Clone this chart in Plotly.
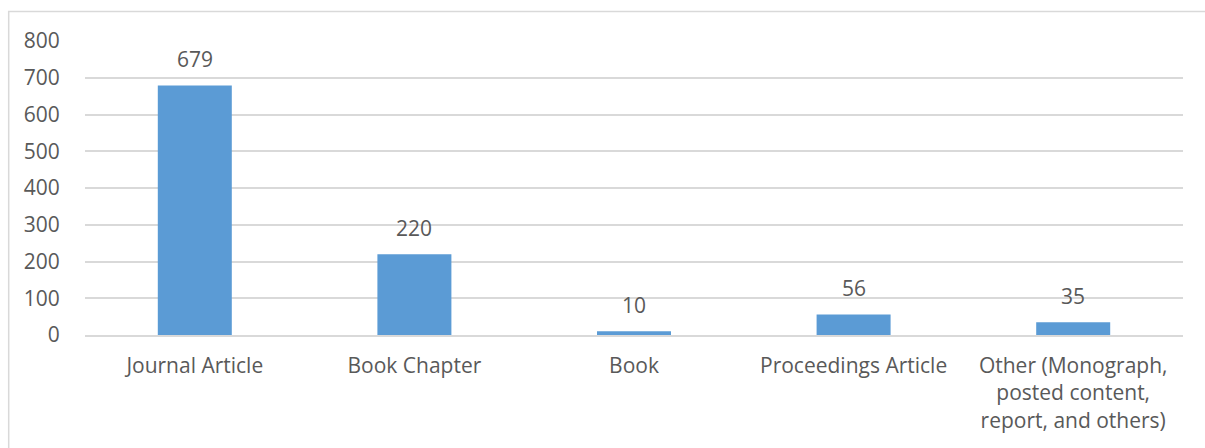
import plotly.graph_objects as go

categories = ["Journal Article", "Book Chapter", "Book", "Proceedings Article",
              "Other (Monograph,<br>posted content,<br>report, and others)"]
values = [679, 220, 10, 56, 35]
y_ticks = [0, 100, 200, 300, 400, 500, 600, 700, 800]

TEXT = "#595959"
GRID = "#D9D9D9"
BAR = "#5B9BD5"
FONT = "Open Sans"
FS = 21

fig = go.Figure()
fig.add_trace(go.Bar(x=categories, y=values, marker=dict(color=BAR, line=dict(width=0)),
                     hoverinfo="x+y"))

for c, v in zip(categories, values):
    fig.add_annotation(x=c, y=v, text=str(v), showarrow=False, yanchor="middle",
                       yshift=26, font=dict(family=FONT, size=FS, color=TEXT))

fig.add_shape(type="rect", xref="paper", yref="paper", x0=-0.0695, x1=1.2, y0=-0.5, y1=1.1,
              line=dict(color=GRID, width=1.5), fillcolor="rgba(0,0,0,0)", layer="below")

fig.update_layout(
    width=1205, height=448,
    margin=dict(l=85, r=22, t=41, b=113),
    paper_bgcolor="white", plot_bgcolor="white",
    bargap=0.663, showlegend=False,
    font=dict(family=FONT, size=FS, color=TEXT),
    xaxis=dict(showgrid=False, showline=True, linecolor=GRID, linewidth=1.5,
               ticks="outside", ticklen=11, tickcolor="rgba(0,0,0,0)",
               tickfont=dict(family=FONT, size=FS, color=TEXT), zeroline=False),
    yaxis=dict(range=[0, 800], tickvals=y_ticks, showgrid=True, gridcolor=GRID, gridwidth=1.5,
               zeroline=False, showline=False, ticks="outside", ticklen=20,
               tickcolor="rgba(0,0,0,0)",
               tickfont=dict(family=FONT, size=FS, color=TEXT)),
)

fig.write_html("out.html", config={"displayModeBar": False},
               post_script="document.body.style.margin='0';")
